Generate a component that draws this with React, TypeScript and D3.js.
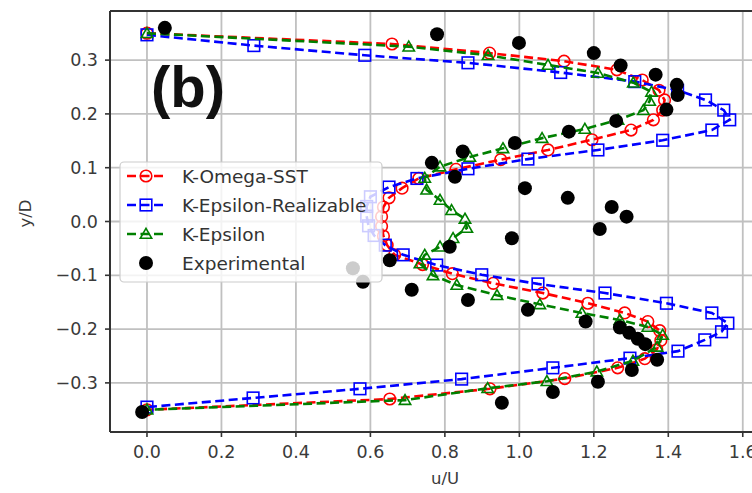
import React from "react";
import * as d3 from "d3";

// ---- Data ----
const xTicks = [0.0, 0.2, 0.4, 0.6, 0.8, 1.0, 1.2, 1.4, 1.6];
const yTicks = [-0.3, -0.2, -0.1, 0.0, 0.1, 0.2, 0.3];

const sstY = [0.350, 0.330, 0.313, 0.298, 0.282, 0.263, 0.244, 0.226, 0.207, 0.189, 0.170, 0.152, 0.133, 0.115, 0.097, 0.080, 0.062, 0.044, 0.027, 0.009, -0.009, -0.027, -0.044, -0.062, -0.080, -0.097, -0.115, -0.133, -0.152, -0.170, -0.186, -0.203, -0.221, -0.238, -0.255, -0.272, -0.292, -0.311, -0.330, -0.350];
const sstU = [0.00, 0.658, 0.92, 1.12, 1.262, 1.33, 1.375, 1.39, 1.385, 1.36, 1.30, 1.195, 1.077, 0.95, 0.83, 0.73, 0.685, 0.65, 0.635, 0.63, 0.63, 0.635, 0.645, 0.665, 0.74, 0.82, 0.93, 1.063, 1.184, 1.283, 1.345, 1.377, 1.38, 1.369, 1.337, 1.264, 1.122, 0.921, 0.652, 0.0];

const realY = [0.347, 0.327, 0.309, 0.295, 0.277, 0.260, 0.244, 0.226, 0.207, 0.189, 0.170, 0.151, 0.133, 0.116, 0.098, 0.080, 0.064, 0.046, 0.028, 0.010, -0.008, -0.026, -0.044, -0.062, -0.081, -0.099, -0.116, -0.133, -0.152, -0.170, -0.189, -0.205, -0.220, -0.241, -0.254, -0.272, -0.293, -0.311, -0.328, -0.345];
const realU = [0.0, 0.287, 0.585, 0.862, 1.111, 1.31, 1.425, 1.50, 1.549, 1.565, 1.517, 1.385, 1.211, 1.023, 0.862, 0.725, 0.650, 0.600, 0.590, 0.590, 0.595, 0.610, 0.640, 0.688, 0.778, 0.899, 1.050, 1.230, 1.395, 1.517, 1.560, 1.543, 1.498, 1.426, 1.297, 1.090, 0.845, 0.572, 0.285, 0.0];

const keY = [0.350, 0.325, 0.309, 0.291, 0.276, 0.258, 0.241, 0.224, 0.207, 0.189, 0.172, 0.155, 0.136, 0.120, 0.102, 0.081, 0.059, 0.040, 0.021, 0.005, -0.012, -0.031, -0.047, -0.062, -0.078, -0.100, -0.118, -0.137, -0.154, -0.170, -0.183, -0.196, -0.211, -0.233, -0.259, -0.279, -0.297, -0.310, -0.332, -0.350];
const keU = [0.0, 0.703, 0.916, 1.077, 1.211, 1.306, 1.355, 1.35, 1.333, 1.265, 1.176, 1.061, 0.956, 0.867, 0.787, 0.746, 0.751, 0.787, 0.818, 0.854, 0.859, 0.822, 0.787, 0.746, 0.733, 0.768, 0.832, 0.94, 1.055, 1.168, 1.27, 1.345, 1.385, 1.37, 1.305, 1.208, 1.074, 0.915, 0.693, 0.0];

const expU = [0.048, 0.779, 0.999, 1.200, 1.272, 1.366, 1.423, 1.425, 1.395, 1.26, 1.133, 0.988, 0.848, 0.765, 0.827, 1.015, 1.130, 1.248, 1.288, 1.216, 0.980, 0.813, 0.652, 0.553, 0.580, 0.711, 0.862, 1.023, 1.178, 1.27, 1.295, 1.318, 1.338, 1.37, 1.302, 1.211, 1.09, 0.953, -0.013];
const expY = [0.360, 0.348, 0.332, 0.313, 0.290, 0.273, 0.254, 0.235, 0.208, 0.187, 0.167, 0.146, 0.130, 0.109, 0.083, 0.062, 0.044, 0.027, 0.009, -0.014, -0.031, -0.047, -0.072, -0.087, -0.112, -0.127, -0.146, -0.164, -0.186, -0.197, -0.207, -0.218, -0.228, -0.257, -0.276, -0.298, -0.317, -0.337, -0.354];

const seriesNames = ["K-Omega-SST", "K-Epsilon-Realizable", "K-Epsilon", "Experimental"];

// ---- Layout ----
const W = 752;
const H = 493;
const left = 110, right = 780, top = 11, bottom = 432;

const x = d3.scaleLinear().domain([-0.0993, 1.7]).range([left, right]);
const y = d3.scaleLinear().domain([-0.3913, 0.3913]).range([bottom, top]);

const zip = (us: number[], ys: number[]) => us.map((u, i) => [u, ys[i]] as [number, number]);

const lineGen = d3.line<[number, number]>().x((d) => x(d[0])).y((d) => y(d[1]));

const tri = d3.symbol().type(d3.symbolTriangle).size(56)() as string;

function Marker({ kind, cx, cy }: { kind: string; cx: number; cy: number }) {
  if (kind === "circle") return <circle cx={cx} cy={cy} r={5.8} fill="none" stroke="#ff0000" strokeWidth={1.6} />;
  if (kind === "square") return <rect x={cx - 5.8} y={cy - 5.8} width={11.6} height={11.6} fill="none" stroke="#0000ff" strokeWidth={1.6} />;
  if (kind === "tri") return <path d={tri} transform={`translate(${cx},${cy + 1})`} fill="none" stroke="#008000" strokeWidth={1.6} />;
  return <circle cx={cx} cy={cy} r={7} fill="#000" />;
}

const FONT = "'DejaVu Sans', sans-serif";

export default function App() {
  const sims = [
    { name: seriesNames[0], data: zip(sstU, sstY), color: "#ff0000", kind: "circle" },
    { name: seriesNames[1], data: zip(realU, realY), color: "#0000ff", kind: "square" },
    { name: seriesNames[2], data: zip(keU, keY), color: "#008000", kind: "tri" },
  ];
  const exp = zip(expU, expY);
  const legendY = [176, 205, 234, 263];

  return (
    <svg width={W} height={H} style={{ position: "absolute", left: 0, top: 0, background: "#fff" }} fontFamily={FONT}>
      <rect x={0} y={0} width={W} height={H} fill="#fff" />
      {/* grid */}
      {xTicks.map((t) => (
        <line key={"gx" + t} x1={x(t)} x2={x(t)} y1={top} y2={bottom} stroke="#c0c0c0" strokeWidth={1.8} />
      ))}
      {yTicks.map((t) => (
        <line key={"gy" + t} x1={left} x2={right} y1={y(t)} y2={y(t)} stroke="#c0c0c0" strokeWidth={1.8} />
      ))}

      {/* simulation lines + markers */}
      {sims.map((s) => (
        <g key={s.name}>
          <path d={lineGen(s.data) as string} fill="none" stroke={s.color} strokeWidth={2.6} strokeDasharray="9,4.5" />
          {s.data.map((d, i) => (
            <Marker key={i} kind={s.kind} cx={x(d[0])} cy={y(d[1])} />
          ))}
        </g>
      ))}
      {/* experimental */}
      {exp.map((d, i) => (
        <Marker key={"e" + i} kind="dot" cx={x(d[0])} cy={y(d[1])} />
      ))}

      {/* spines */}
      <line x1={left} x2={left} y1={top} y2={bottom} stroke="#333" strokeWidth={2} />
      <line x1={left} x2={right} y1={bottom} y2={bottom} stroke="#333" strokeWidth={2} />
      <line x1={left} x2={right} y1={top} y2={top} stroke="#333" strokeWidth={2} />
      <line x1={right} x2={right} y1={top} y2={bottom} stroke="#333" strokeWidth={2} />

      {/* ticks */}
      {xTicks.map((t) => (
        <g key={"tx" + t}>
          <line x1={x(t)} x2={x(t)} y1={bottom} y2={bottom + 5} stroke="#333" strokeWidth={1.6} />
          <text x={x(t)} y={458} textAnchor="middle" fontSize={17.5} fill="#3a3a3a">
            {t.toFixed(1)}
          </text>
        </g>
      ))}
      {yTicks.map((t) => (
        <g key={"ty" + t}>
          <line x1={left - 5} x2={left} y1={y(t)} y2={y(t)} stroke="#333" strokeWidth={1.6} />
          <text x={98} y={y(t)} dy="0.35em" textAnchor="end" fontSize={17.5} fill="#3a3a3a">
            {t < 0 ? "\u2212" + Math.abs(t).toFixed(1) : t.toFixed(1)}
          </text>
        </g>
      ))}

      {/* axis labels */}
      <text x={(left + right) / 2} y={484} textAnchor="middle" fontSize={16.5} fill="#3a3a3a">u/U</text>
      <text transform={`translate(31,${(top + bottom) / 2 - 8}) rotate(-90)`} textAnchor="middle" fontSize={16.5} fill="#3a3a3a">y/D</text>

      {/* legend */}
      <rect x={120} y={162} width={262} height={120} rx={4} fill="#fff" fillOpacity={0.8} stroke="#cccccc" strokeWidth={1.2} />
      {sims.map((s, i) => (
        <g key={"lg" + s.name}>
          <line x1={127} x2={165} y1={legendY[i]} y2={legendY[i]} stroke={s.color} strokeWidth={2.6} strokeDasharray="9,4.5" />
          <Marker kind={s.kind} cx={146} cy={legendY[i]} />
          <text x={182} y={legendY[i]} dy="0.36em" fontSize={18.5} fill="#333">
            {s.name}
          </text>
        </g>
      ))}
      <Marker kind="dot" cx={146} cy={legendY[3]} />
      <text x={182} y={legendY[3]} dy="0.36em" fontSize={18.5} fill="#333">{seriesNames[3]}</text>

      {/* panel label */}
      <text x={151} y={107} fontSize={58} fontWeight="bold" fontFamily="'Liberation Sans', Arial, sans-serif" fill="#111">(b)</text>
    </svg>
  );
}
